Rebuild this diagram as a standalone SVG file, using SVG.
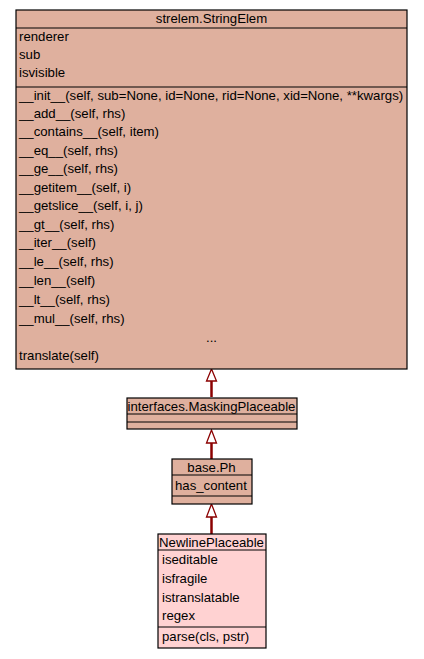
<svg xmlns="http://www.w3.org/2000/svg" width="424" height="659" viewBox="0 0 424 659">
  <defs>
    <style>
      .box { fill: #dfb09e; stroke: #000; stroke-width: 1.2; }
      .leaf { fill: #ffd2d2; stroke: #000; stroke-width: 1.2; }
      .sep { stroke: #000; stroke-width: 1.2; fill: none; }
      text { font-family: "Liberation Sans", Arial, Helvetica, sans-serif; font-size: 13.2px; fill: #000; }
      .c { text-anchor: middle; }
      .edge { stroke: #8b0000; stroke-width: 2.5; fill: none; }
      .head { fill: #fff; stroke: #8b0000; stroke-width: 1.3; }
    </style>
  </defs>
  <rect width="424" height="659" fill="#fff"/>

  <g id="connectors">
    <line class="edge" x1="211.5" y1="381" x2="211.5" y2="397"/>
    <polygon class="head" points="211.5,369 206.5,381 216.5,381"/>
    <line class="edge" x1="211.5" y1="443" x2="211.5" y2="459"/>
    <polygon class="head" points="211.5,430 206.5,443 216.5,443"/>
    <line class="edge" x1="211.5" y1="517" x2="211.5" y2="534"/>
    <polygon class="head" points="211.5,504 206.5,517 216.5,517"/>
  </g>

  <g id="strelem.StringElem">
    <rect class="box" x="16" y="10" width="391" height="359"/>
    <line class="sep" x1="16" y1="28" x2="407" y2="28"/>
    <line class="sep" x1="16" y1="87" x2="407" y2="87"/>
    <text class="c" x="211.5" y="23">strelem.StringElem</text>
    <text x="19" y="41">renderer</text>
    <text x="19" y="59">sub</text>
    <text x="19" y="77">isvisible</text>
    <text x="19" y="100">__init__(self, sub=None, id=None, rid=None, xid=None, **kwargs)</text>
    <text x="19" y="118">__add__(self, rhs)</text>
    <text x="19" y="136">__contains__(self, item)</text>
    <text x="19" y="155">__eq__(self, rhs)</text>
    <text x="19" y="173">__ge__(self, rhs)</text>
    <text x="19" y="192">__getitem__(self, i)</text>
    <text x="19" y="210">__getslice__(self, i, j)</text>
    <text x="19" y="229">__gt__(self, rhs)</text>
    <text x="19" y="247">__iter__(self)</text>
    <text x="19" y="266">__le__(self, rhs)</text>
    <text x="19" y="285">__len__(self)</text>
    <text x="19" y="304">__lt__(self, rhs)</text>
    <text x="19" y="323">__mul__(self, rhs)</text>
    <text class="c" x="211.5" y="342">...</text>
    <text x="19" y="360">translate(self)</text>
  </g>

  <g id="interfaces.MaskingPlaceable">
    <rect class="box" x="127" y="398" width="170" height="31"/>
    <line class="sep" x1="127" y1="414" x2="297" y2="414"/>
    <line class="sep" x1="127" y1="422" x2="297" y2="422"/>
    <text class="c" x="211.5" y="411">interfaces.MaskingPlaceable</text>
  </g>

  <g id="base.Ph">
    <rect class="box" x="172" y="459" width="80" height="45"/>
    <line class="sep" x1="172" y1="475" x2="252" y2="475"/>
    <line class="sep" x1="172" y1="496" x2="252" y2="496"/>
    <text class="c" x="211.5" y="472">base.Ph</text>
    <text x="175" y="490">has_content</text>
  </g>

  <g id="NewlinePlaceable">
    <rect class="leaf" x="158" y="534" width="108" height="114"/>
    <line class="sep" x1="158" y1="550" x2="266" y2="550"/>
    <line class="sep" x1="158" y1="627" x2="266" y2="627"/>
    <text class="c" x="211.5" y="547">NewlinePlaceable</text>
    <text x="162" y="564">iseditable</text>
    <text x="162" y="583">isfragile</text>
    <text x="162" y="602">istranslatable</text>
    <text x="162" y="620">regex</text>
    <text x="162" y="641">parse(cls, pstr)</text>
  </g>
</svg>
